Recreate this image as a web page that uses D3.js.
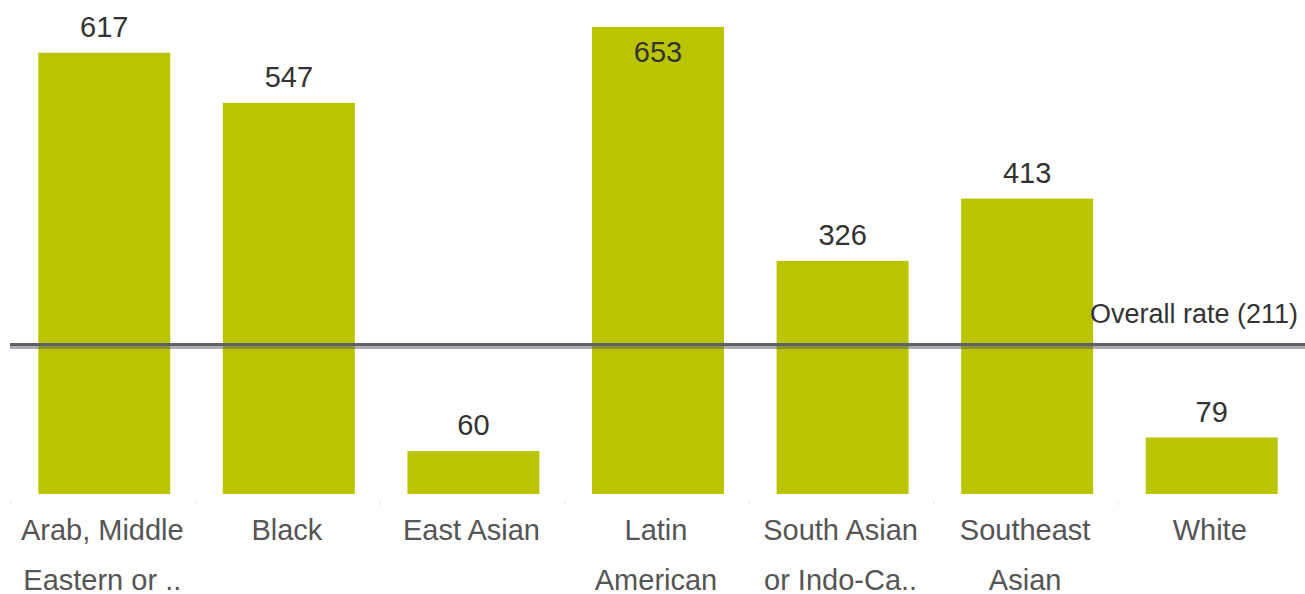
<!DOCTYPE html>
<html>
<head>
<meta charset="utf-8">
<script src="https://cdn.jsdelivr.net/npm/d3@7"></script>
<style>
  body { margin: 0; background: #fff; }
  text { font-family: "Liberation Sans", Arial, sans-serif; }
</style>
</head>
<body>
<script>
// Chart data
var categories = ['Arab, Middle Eastern', 'Black', 'East Asian', 'Latin American',
                  'South Asian or Indo-Caribbean', 'Southeast Asian', 'White'];
var labelLines = [['Arab, Middle', 'Eastern or ..'], ['Black'], ['East Asian'],
                  ['Latin', 'American'], ['South Asian', 'or Indo-Ca..'],
                  ['Southeast', 'Asian'], ['White']];
var rates = [617, 547, 60, 653, 326, 413, 79];
var overallRate = 211;

var width = 1305, height = 594;
var baseline = 494;

var svg = d3.select('body')
            .append('svg')
              .attr('width', width)
              .attr('height', height);

var x = d3.scaleBand()
          .domain(categories)
          .range([12, 1304])
          .paddingInner(0.285)
          .paddingOuter(0.1425);

var y = d3.scaleLinear()
          .domain([0, d3.max(rates)])
          .range([baseline, 27]);

// bars
svg.selectAll('rect.bar')
  .data(rates)
  .enter()
  .append('rect')
    .attr('class', 'bar')
    .attr('x', function(d, i){ return x(categories[i]); })
    .attr('width', x.bandwidth())
    .attr('y', function(d){ return y(d); })
    .attr('height', function(d){ return baseline - y(d); })
    .attr('fill', '#bbc400');

// value labels (pushed inside the bar when there is no room above)
svg.selectAll('text.value')
  .data(rates)
  .enter()
  .append('text')
    .attr('class', 'value')
    .attr('x', function(d, i){ return x(categories[i]) + x.bandwidth() / 2; })
    .attr('y', function(d){
      var ty = y(d) - 16;
      return ty < 30 ? y(d) + 35 : ty;
    })
    .attr('text-anchor', 'middle')
    .attr('font-size', 29)
    .attr('fill', '#333')
    .text(function(d){ return d; });

// faint band separators under the axis
var step = x.step();
svg.selectAll('line.sep')
  .data(categories)
  .enter()
  .append('line')
    .attr('x1', function(d){ return x(d) - step * x.paddingInner() / 2 - 1; })
    .attr('x2', function(d){ return x(d) - step * x.paddingInner() / 2 - 1; })
    .attr('y1', 501)
    .attr('y2', 505)
    .attr('stroke', '#eee')
    .attr('stroke-width', 2);

// category labels
var cat = svg.selectAll('text.cat')
  .data(labelLines)
  .enter()
  .append('text')
    .attr('class', 'cat')
    .attr('text-anchor', 'middle')
    .attr('font-size', 29)
    .attr('fill', '#555');

cat.selectAll('tspan')
  .data(function(d, i){
    return d.map(function(t){ return { t: t, i: i }; });
  })
  .enter()
  .append('tspan')
    .attr('x', function(d){ return x(categories[d.i]) + x.bandwidth() / 2 - 2; })
    .attr('y', function(d, j){ return 540 + j * 50; })
    .text(function(d){ return d.t; });

// overall rate reference line
svg.append('line')
  .attr('x1', 10).attr('x2', width)
  .attr('y1', y(overallRate) + 1.5).attr('y2', y(overallRate) + 1.5)
  .attr('stroke', '#5e6168')
  .attr('stroke-width', 3);

svg.append('line')
  .attr('x1', 10).attr('x2', width)
  .attr('y1', y(overallRate) + 4.5).attr('y2', y(overallRate) + 4.5)
  .attr('stroke', 'rgba(90,90,100,0.5)')
  .attr('stroke-width', 3);

svg.append('text')
  .attr('x', 1298)
  .attr('y', y(overallRate) - 20)
  .attr('text-anchor', 'end')
  .attr('font-size', 27)
  .attr('fill', '#333')
  .text('Overall rate (' + overallRate + ')');
</script>
</body>
</html>
